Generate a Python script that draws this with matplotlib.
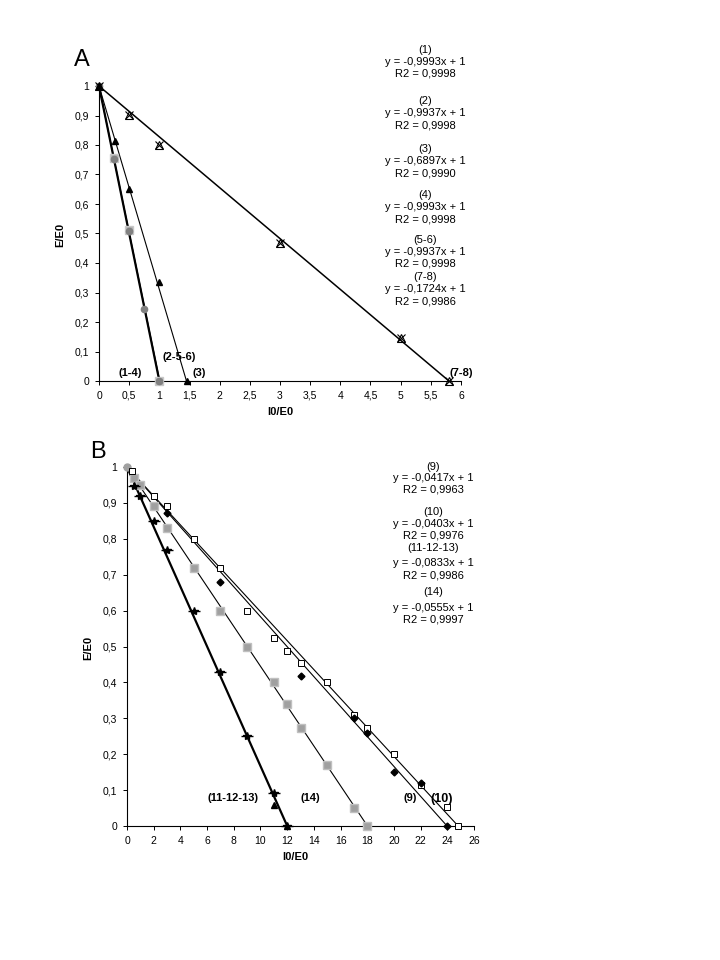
import numpy as np
import matplotlib.pyplot as plt
from matplotlib.ticker import FuncFormatter, MultipleLocator

plt.rcParams['font.family'] = ['Liberation Sans', 'DejaVu Sans']

# ---- panel A data ----
a_x14 = [0, 0.25, 0.5, 0.75, 1.0]
a_y14 = [1, 0.753, 0.51, 0.243, 0.0]
a_x256 = [0.25, 0.5, 1.0]
a_y256 = [0.755, 0.513, 0.0]
a_x3 = [0, 0.265, 0.5, 1.0, 1.46]
a_y3 = [1, 0.815, 0.65, 0.335, 0.0]
a_x78 = [0, 0.5, 1.0, 3.0, 5.0, 5.8]
a_y78 = [1, 0.903, 0.8, 0.467, 0.145, 0.0]
a_slopes = {'1-4': -0.9993, '2-5-6': -0.9937, '3': -0.6897, '7-8': -0.1724}
a_eqs = [('(1)', '-0,9993', '0,9998'), ('(2)', '-0,9937', '0,9998'),
         ('(3)', '-0,6897', '0,9990'), ('(4)', '-0,9993', '0,9998'),
         ('(5-6)', '-0,9937', '0,9998'), ('(7-8)', '-0,1724', '0,9986')]

# ---- panel B data ----
b_x9 = [3, 7, 13, 17, 18, 20, 22, 24]
b_y9 = [0.872, 0.68, 0.418, 0.30, 0.26, 0.15, 0.12, 0.0]
b_x10 = [0.4, 2, 3, 5, 7, 9, 11, 12, 13, 15, 17, 18, 20, 22, 24, 24.8]
b_y10 = [0.989, 0.92, 0.89, 0.80, 0.72, 0.60, 0.523, 0.488, 0.453, 0.40,
         0.31, 0.272, 0.20, 0.113, 0.052, 0.0]
b_x14 = [0.5, 1, 2, 3, 5, 7, 9, 11, 12, 13, 15, 17, 18]
b_y14 = [0.968, 0.95, 0.89, 0.83, 0.72, 0.60, 0.50, 0.40, 0.339, 0.272,
         0.17, 0.051, 0.0]
b_x111213 = [0.5, 1, 2, 3, 5, 7, 9, 11, 12]
b_y111213 = [0.948, 0.92, 0.85, 0.77, 0.60, 0.43, 0.25, 0.093, 0.0]
b_x13tri = [11, 12]
b_y13tri = [0.059, 0.0]
b_slopes = {'9': -0.0417, '10': -0.0403, '11-12-13': -0.0833, '14': -0.0555}
b_eqs = [('(9)', '-0,0417', '0,9963'), ('(10)', '-0,0403', '0,9976'),
         ('(11-12-13)', '-0,0833', '0,9986'), ('(14)', '-0,0555', '0,9997')]

comma = FuncFormatter(lambda v, p: f"{v:g}".replace('.', ','))
W, H = 720, 960
EQ_FS = 8
LBL_FS = 8


def fx(px):
    return px / W


def fy(py):
    return 1 - py / H


def style(ax, xmax, xstep, ymax):
    ax.set_xlim(0, xmax)
    ax.set_ylim(0, ymax)
    ax.xaxis.set_major_locator(MultipleLocator(xstep))
    ax.yaxis.set_major_locator(MultipleLocator(0.1))
    ax.xaxis.set_major_formatter(comma)
    ax.yaxis.set_major_formatter(comma)
    for s in ['top', 'right']:
        ax.spines[s].set_visible(False)
    for s in ['left', 'bottom']:
        ax.spines[s].set_linewidth(0.8)
    ax.tick_params(direction='out', length=3, width=0.7, labelsize=7.5, pad=4)


def trend(ax, slope, lw):
    x = np.array([0, -1 / slope])
    ax.plot(x, 1 + slope * x, color='black', lw=lw, clip_on=False, zorder=2)


fig = plt.figure(figsize=(7.2, 9.6), dpi=100)

# ================= A =================
axA = fig.add_axes([fx(99), fy(381), fx(461) - fx(99), fy(86) - fy(381)])
style(axA, 6, 0.5, 1)
trend(axA, a_slopes['1-4'], 1.6)
trend(axA, a_slopes['2-5-6'], 0.8)
trend(axA, a_slopes['3'], 0.8)
trend(axA, a_slopes['7-8'], 1.1)
kw = dict(ls='none', clip_on=False, zorder=3)
axA.plot(a_x256, a_y256, marker='s', ms=6, color='#b0b0b0', mec='#c8c8c8', **kw)
axA.plot(a_x14, a_y14, marker='o', ms=4.5, color='#808080', mec='#808080', **kw)
axA.plot(a_x3, a_y3, marker='^', ms=4.5, color='black', **kw)
axA.plot(a_x78, a_y78, marker='^', ms=6, mfc='none', mec='black', mew=0.8, **kw)
axA.plot(a_x78, a_y78, marker='x', ms=6, color='black', mew=0.8, **kw)

lbl = dict(fontsize=LBL_FS, fontweight='bold', ha='center', va='center')
axA.text(0.525, 0.026, '(1-4)', **lbl)
axA.text(1.33, 0.082, '(2-5-6)', **lbl)
axA.text(1.66, 0.028, '(3)', **lbl)
axA.text(6.01, 0.028, '(7-8)', **lbl)

a_rows = [50, 101, 149, 195, 240, 277]
for (name, sl, r2), y0 in zip(a_eqs, a_rows):
    fig.text(fx(425), fy(y0), name, fontsize=EQ_FS, ha='center', va='center')
    fig.text(fx(425), fy(y0 + 12), f"y = {sl}x + 1", fontsize=EQ_FS, ha='center', va='center')
    fig.text(fx(425), fy(y0 + 24), f"R2 = {r2}", fontsize=EQ_FS, ha='center', va='center')

fig.text(fx(280), fy(412), 'I0/E0', fontsize=LBL_FS, fontweight='bold', ha='center', va='center')
fig.text(fx(60), fy(235), 'E/E0', fontsize=LBL_FS, fontweight='bold', ha='center', va='center',
         rotation=90)
fig.text(fx(82), fy(60), 'A', fontsize=17, ha='center', va='center')

# ================= B =================
axB = fig.add_axes([fx(127), fy(826), fx(474) - fx(127), fy(467) - fy(826)])
style(axB, 26, 2, 1)
trend(axB, b_slopes['11-12-13'], 1.6)
trend(axB, b_slopes['14'], 0.8)
trend(axB, b_slopes['9'], 0.8)
trend(axB, b_slopes['10'], 0.8)
axB.plot([0], [1], marker='o', ms=5, color='#a0a0a0', **kw)
axB.plot(b_x14, b_y14, marker='s', ms=5.5, color='#a0a0a0', mec='#c0c0c0', **kw)
axB.plot(b_x10, b_y10, marker='s', ms=4.5, mfc='white', mec='black', mew=0.7, **kw)
axB.plot(b_x9, b_y9, marker='D', ms=3.5, color='black', **kw)
axB.plot(b_x13tri, b_y13tri, marker='^', ms=4, color='black', **kw)
axB.plot(b_x111213, b_y111213, marker='_', ms=9, color='black', mew=1.0, **kw)
axB.plot(b_x111213, b_y111213, marker='*', ms=6, color='black', **kw)

axB.text(7.96, 0.079, '(11-12-13)', **lbl)
axB.text(13.76, 0.077, '(14)', **lbl)
axB.text(21.2, 0.079, '(9)', **lbl)
axB.text(23.57, 0.076, '(10)', fontsize=9, fontweight='bold', ha='center', va='center')

b_rows = [467, 512, 548, 592]
b_gaps = [(11, 22), (12, 24), (15, 27), (16, 28)]
for (name, sl, r2), y0, (g1, g2) in zip(b_eqs, b_rows, b_gaps):
    fig.text(fx(433), fy(y0), name, fontsize=EQ_FS, ha='center', va='center')
    fig.text(fx(433), fy(y0 + g1), f"y = {sl}x + 1", fontsize=EQ_FS, ha='center', va='center')
    fig.text(fx(433), fy(y0 + g2), f"R2 = {r2}", fontsize=EQ_FS, ha='center', va='center')

fig.text(fx(295), fy(857), 'I0/E0', fontsize=LBL_FS, fontweight='bold', ha='center', va='center')
fig.text(fx(88), fy(648), 'E/E0', fontsize=LBL_FS, fontweight='bold', ha='center', va='center',
         rotation=90)
fig.text(fx(98), fy(452), 'B', fontsize=17, ha='center', va='center')

fig.savefig('out.png', dpi=100)
